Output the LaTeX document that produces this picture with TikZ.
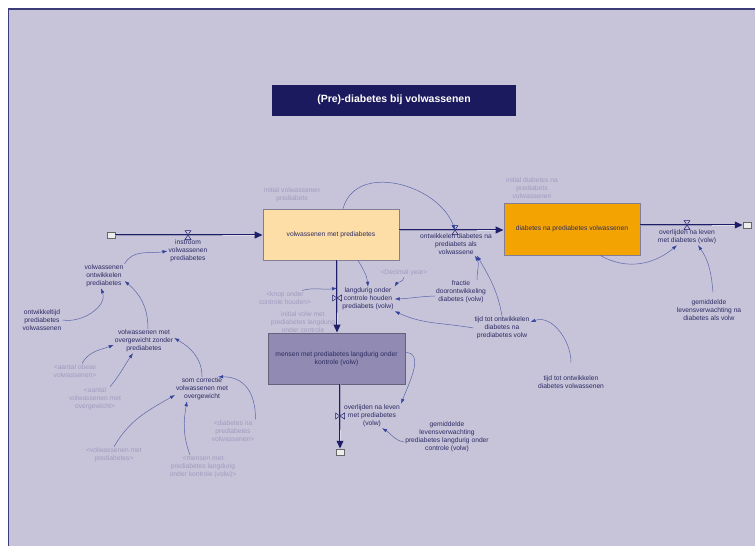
\documentclass[tikz,border=0pt]{standalone}
\usepackage{fontspec}
\setmainfont{Liberation Sans}
\usetikzlibrary{arrows.meta,calc,decorations.markings}

\definecolor{bgcol}{HTML}{C7C3D9}
\definecolor{framecol}{HTML}{3C3C78}
\definecolor{titlecol}{HTML}{1B1A5E}
\definecolor{txtcol}{HTML}{2B2B63}
\definecolor{greycol}{HTML}{A09CBE}
\definecolor{pipecol}{HTML}{1E1E68}
\definecolor{linkcol}{HTML}{5A66A8}
\definecolor{tipcol}{HTML}{33449A}
\definecolor{stockA}{HTML}{FDDEA6}
\definecolor{stockB}{HTML}{F4A402}
\definecolor{stockC}{HTML}{918AB2}
\definecolor{stockedge}{HTML}{827D98}

\tikzset{
  txt/.style={font=\fontsize{6.7}{7.9}\selectfont, text=txtcol, align=center, inner sep=1pt},
  shadowvar/.style={txt, text=greycol},
  stockbox/.style={txt, draw=stockedge, line width=0.6pt, inner sep=0pt},
  titlebox/.style={fill=titlecol, text=white, font=\fontsize{10.5}{12}\selectfont\bfseries,
    minimum width=244pt, minimum height=31pt, inner sep=0pt},
  cloudbox/.style={draw=black!60, fill=white!93!black, line width=0.5pt,
    minimum width=8pt, minimum height=6pt, inner sep=0pt},
  pipe/.style={draw=pipecol, line width=0.85pt, double=bgcol!60!white, double distance=1pt,
    shorten >=5pt,
    postaction={decorate, decoration={markings,
      mark=at position 1 with {\arrow[pipecol]{Triangle[length=8pt,width=6.5pt]}}}}},
  link/.style={draw=linkcol, line width=0.5pt, -{Latex[length=5pt,width=3.5pt,color=tipcol]}},
  valveh/.pic={\draw[pipecol, fill=bgcol, line width=0.5pt]
      (-3,4.5) -- (3,4.5) -- (-3,-4.5) -- (3,-4.5) -- cycle;},
  valvev/.pic={\draw[pipecol, fill=bgcol, line width=0.5pt]
      (-4.5,3) -- (-4.5,-3) -- (4.5,3) -- (4.5,-3) -- cycle;},
}

\begin{document}
\begin{tikzpicture}[x=1pt,y=1pt]
  % canvas and frame
  \useasboundingbox (0,0) rectangle (755,-546);
  \fill[white] (0,0) rectangle (755,-546);
  \fill[bgcol] (8.5,-9) rectangle (760,-551);
  \draw[framecol, line width=1.2pt] (8.5,-551) -- (8.5,-9) -- (760,-9);

  % title
  \node[titlebox] (title) at (394,-100) {(Pre)-diabetes bij volwassenen};

  % stocks
  \node[stockbox, fill=stockA, minimum width=136pt, minimum height=51pt] (s1) at (331,-234.5)
    {volwassenen met prediabetes};
  \node[stockbox, fill=stockB, minimum width=136pt, minimum height=52pt] (s2) at (572,-229)
    {diabetes na prediabetes volwassenen};
  \node[stockbox, fill=stockC, minimum width=137pt, minimum height=51pt, draw=stockC!70!black] (s3) at (336.5,-358.5)
    {mensen met prediabetes langdurig onder\\kontrole (volw)};

  % sources and sinks
  \node[cloudbox] (c1) at (111,-235) {};
  \node[cloudbox] (c2) at (747,-225) {};
  \node[cloudbox] (c3) at (340,-452) {};

  % valve positions
  \coordinate (v1) at (188,-235);
  \coordinate (v2) at (455,-230);
  \coordinate (v3) at (687,-225);
  \coordinate (v4) at (337,-298);
  \coordinate (v5) at (340,-416);

  % flows
  \draw[pipe] (c1.east) -- (v1) -- (s1.west |- v1);
  \draw[pipe] (s1.east |- v2) -- (v2) -- (s2.west |- v2);
  \draw[pipe] (s2.east |- v3) -- (v3) -- (c2.west);
  \draw[pipe] (v4 |- s1.south) -- (v4) -- (v4 |- s3.north);
  \draw[pipe] (v5 |- s3.south) -- (v5) -- (c3.north);
  \pic at (v1) {valveh};
  \pic at (v2) {valveh};
  \pic at (v3) {valveh};
  \pic at (v4) {valvev};
  \pic at (v5) {valvev};

  % flow labels
  \node[txt] (f1) at (188,-251) {instroom\\volwassenen\\prediabetes};
  \node[txt] (f2) at (456,-244) {ontwikkelen diabetes na\\prediabets als\\volwassene};
  \node[txt] (f3) at (687,-237) {overlijden na leven\\met diabetes (volw)};
  \node[txt] (f4) at (368,-299) {langdurig onder\\controle houden\\prediabets (volw)};
  \node[txt] (f5) at (372,-416) {overlijden na leven\\met prediabetes\\(volw)};

  % auxiliaries
  \node[txt] (vOP) at (104,-276) {volwassenen\\ontwikkelen\\prediabetes};
  \node[txt] (vOT) at (42,-320) {ontwikkeltijd\\prediabetes\\volwassenen};
  \node[txt] (vOZ) at (144,-341) {volwassenen met\\overgewicht zonder\\prediabetes};
  \node[txt] (vSC) at (202,-389) {som correctie\\volwassenen met\\overgewicht};
  \node[txt] (vFR) at (461,-292) {fractie\\doorontwikkeling\\diabetes (volw)};
  \node[txt] (vTP) at (502,-328) {tijd tot ontwikkelen\\diabetes na\\prediabetes volw};
  \node[txt] (vTV) at (571,-382) {tijd tot ontwikkelen\\diabetes volwassenen};
  \node[txt] (vGD) at (709,-310) {gemiddelde\\levensverwachting na\\diabetes als volw};
  \node[txt] (vGP) at (447,-437) {gemiddelde\\levensverwachting\\prediabetes langdurig onder\\controle (volw)};

  % initial values and shadow variables
  \node[shadowvar] (gIV) at (292,-195) {initial volwassenen\\prediabets};
  \node[shadowvar] (gID) at (532,-188) {initial diabetes na\\prediabets\\volwassenen};
  \node[shadowvar] (gDY) at (404,-273) {<Decimal year>};
  \node[shadowvar] (gKN) at (285,-298) {<knop onder\\controle houden>};
  \node[shadowvar] (gIP) at (303,-322) {initial volw met\\prediabetes langdurig\\onder controle};
  \node[shadowvar] (gAO) at (75,-371) {<aantal obese\\volwassenen>};
  \node[shadowvar] (gAV) at (95,-399) {<aantal\\volwassenen met\\overgewicht>};
  \node[shadowvar] (gDN) at (233,-431) {<diabetes na\\prediabetes\\volwassenen>};
  \node[shadowvar] (gVP) at (114,-455) {<volwassenen met\\prediabetes>};
  \node[shadowvar] (gMP) at (203,-467) {<mensen met\\prediabetes langdurig\\onder kontrole (volw)>};

  % information links
  \draw[link] (vOP.north east) to[out=60, in=190] (f1.west);
  \draw[link] (vOT.east) to[out=-10, in=-70] ([xshift=-3pt]vOP.south);
  \draw[link] ([xshift=4pt]vOZ.north) to[out=90, in=-40] ([yshift=-5pt]vOP.east);
  \draw[link] ([xshift=7pt]gAO.north) to[out=60, in=200] ([yshift=-4pt]vOZ.west);
  \draw[link] ([xshift=15pt]gAV.north) to[out=50, in=235] ([xshift=-11pt]vOZ.south);
  \draw[link] (vSC.north) to[out=90, in=-30] ([yshift=3pt]vOZ.east);
  \draw[link] (gVP.north) to[out=60, in=210] ([yshift=-6pt]vSC.west);
  \draw[link] ([xshift=-13pt]gMP.north) to[out=110, in=-100] ([xshift=-15pt]vSC.south);
  \draw[link] (gDN.north east) to[out=90, in=0, looseness=1.2] ([xshift=-11pt]vSC.north east);
  \draw[link] ([xshift=12pt]s1.north) to[out=75, in=110, looseness=1.1] (v2);
  \draw[link] ([xshift=27pt]s1.south) to[out=-60, in=95] (f4.north);
  \draw[link] (gDY.south) to[out=-100, in=60] (f4.north east);
  \draw[link] ([xshift=-10pt]gKN.north east) to[out=15, in=190] ([yshift=10pt]v4);
  \draw[link] ([yshift=-4pt]vFR.west) to[out=182, in=2] (f4.east);
  \draw[link] ([xshift=16pt]vFR.north) to[out=90, in=-60] ([xshift=19pt]f2.south);
  \draw[link] (vTP.north) to[out=100, in=-60] ([xshift=21pt]f2.south);
  \draw[link] (vTP.west) to[out=170, in=-25] (f4.south east);
  \draw[link] ([yshift=12pt]vTV.north) to[out=90, in=20] ([yshift=6pt]vTP.east);
  \draw[link] ([xshift=28pt]s2.south) to[out=-30, in=-140] ([xshift=-10pt]f3.south);
  \draw[link] ([xshift=4pt,yshift=6pt]vGD.north) to[out=95, in=-55] ([xshift=11pt]f3.south);
  \draw[link] ([yshift=6pt]s3.east) to[out=0, in=70] (f5.north east);
  \draw[link] ([yshift=-5pt]vGP.west) to[out=170, in=-30] ([xshift=10pt]f5.south);
\end{tikzpicture}
\end{document}
